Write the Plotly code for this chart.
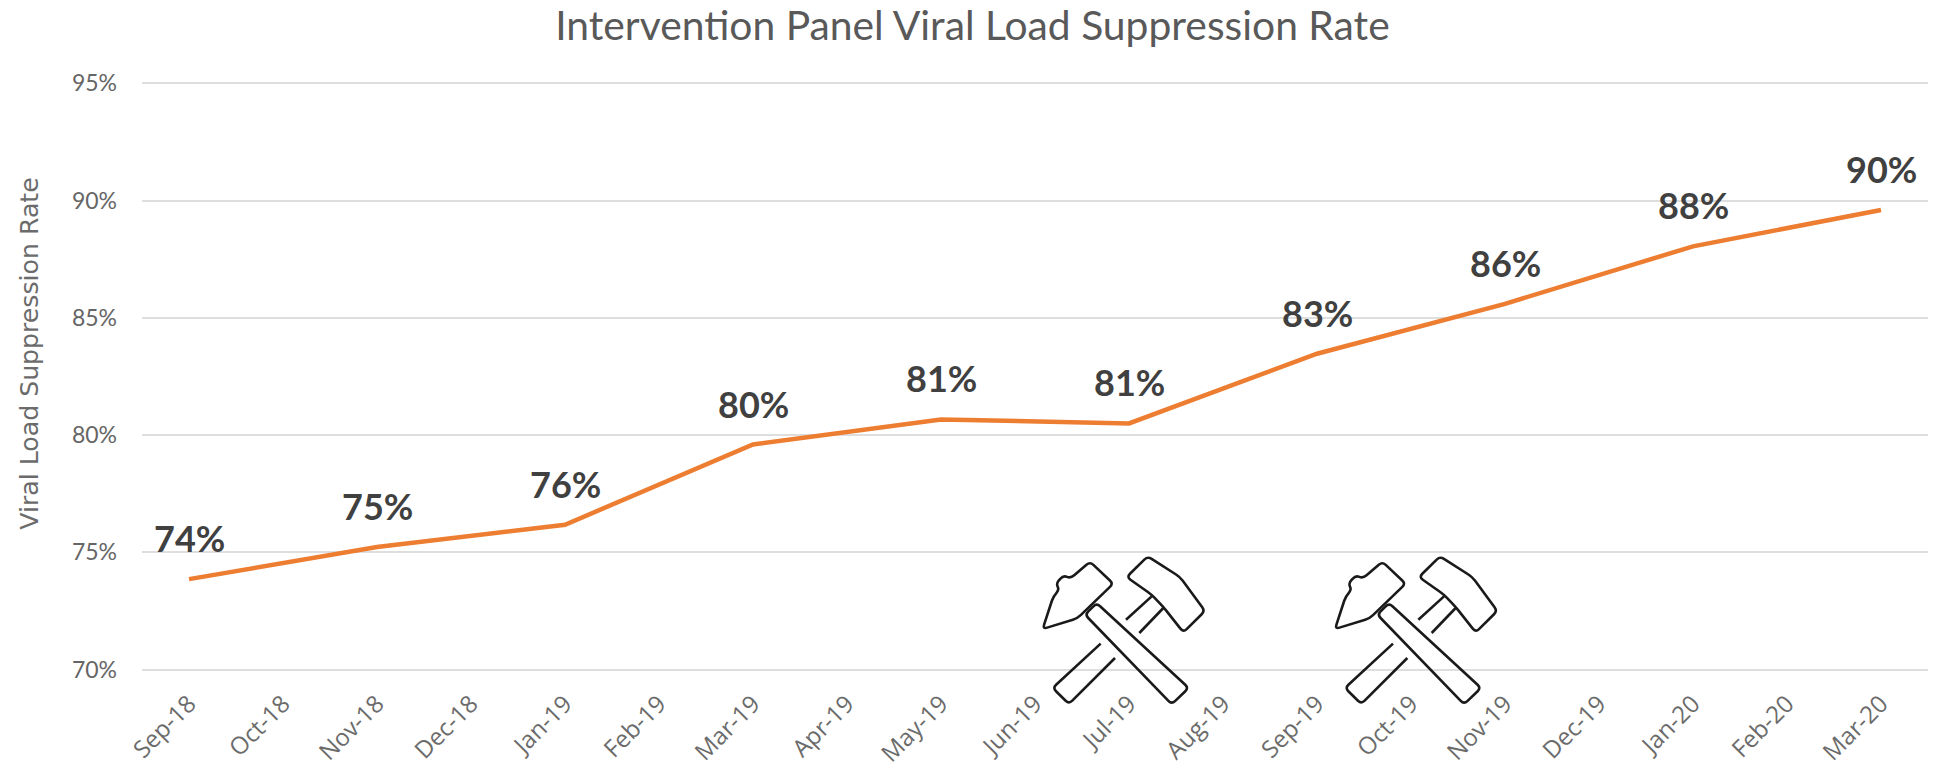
import math
import plotly.graph_objects as go

months = ["Sep-18","Oct-18","Nov-18","Dec-18","Jan-19","Feb-19","Mar-19","Apr-19","May-19","Jun-19",
          "Jul-19","Aug-19","Sep-19","Oct-19","Nov-19","Dec-19","Jan-20","Feb-20","Mar-20"]
rates = [73.86,None,75.23,None,76.18,None,79.6,None,80.67,None,80.5,None,83.47,None,85.6,None,88.05,None,89.6]
labels = ["74%",None,"75%",None,"76%",None,"80%",None,"81%",None,"81%",None,"83%",None,"86%",None,"88%",None,"90%"]
y_ticks = [70,75,80,85,90,95]
y_tick_text = ["70%","75%","80%","85%","90%","95%"]

W, H = 1941, 771
L, R, T, B = 142, 13, 81.15, 98.65

# Hammer icon outline, in reference zoom-crop units (3x), anchored at crop origin (1000, 520)
ICON_CLOSED = [
    [(270,126),(340,192),(232,296),(128,328),(160,230),(178,210),(168,192),(190,167),(212,176)],
    [(290,250),(566,505),(515,554),(255,285)],
    [(443,110),(540,172),(615,274),(550,338),(490,262),(455,225),(380,172)],
]
ICON_OPEN = [
    [(302,372),(158,505),(207,553),(345,415)],
    [(455,230),(378,300)],
    [(490,265),(418,340)],
]
ICON_OFFSETS = [0, 877]
CORNER = 14

def fx(px): return (px - L) / (W - L - R)
def fy(py): return 1 - (py - T) / (H - T - B)
def to_paper(p, dx):
    return fx(1000 + (p[0] + dx) / 3), fy(520 + p[1] / 3)

def toward(b, a):
    d = math.dist(a, b)
    t = min(CORNER, d / 2) / d
    return (b[0] + (a[0] - b[0]) * t, b[1] + (a[1] - b[1]) * t)

def rounded(points, dx, closed):
    n = len(points)
    if not closed:
        x, y = to_paper(points[0], dx)
        s = f"M{x},{y}"
        rng = range(1, n - 1)
    else:
        s = ""
        rng = range(n)
    for i in rng:
        a, b, c = points[i - 1], points[i], points[(i + 1) % n]
        p1, q, p2 = to_paper(toward(b, a), dx), to_paper(b, dx), to_paper(toward(b, c), dx)
        s += ("L" if s else "M") + f"{p1[0]},{p1[1]}Q{q[0]},{q[1]} {p2[0]},{p2[1]}"
    if closed:
        s += "Z"
    else:
        x, y = to_paper(points[-1], dx)
        s += f"L{x},{y}"
    return s

shapes = []
for dx in ICON_OFFSETS:
    for poly in ICON_CLOSED:
        shapes.append(dict(type="path", xref="paper", yref="paper", path=rounded(poly, dx, True),
                           line=dict(color="#1a1a1a", width=2.6), layer="above"))
    for poly in ICON_OPEN:
        shapes.append(dict(type="path", xref="paper", yref="paper", path=rounded(poly, dx, False),
                           line=dict(color="#1a1a1a", width=2.6), layer="above"))

fig = go.Figure(go.Scatter(
    x=months, y=rates, mode="lines", connectgaps=True,
    line=dict(color="#ed7d31", width=4.5), hoverinfo="skip",
))

annotations = [
    dict(x=m, y=v, xref="x", yref="y", text=t, showarrow=False, yshift=41, yanchor="middle",
         font=dict(family="Lato", size=36, color="#404040", weight="bold"))
    for m, v, t in zip(months, rates, labels) if t
]
annotations.append(dict(
    x=fx(30), y=fy(354), xref="paper", yref="paper", text="Viral Load Suppression Rate",
    textangle=-90, showarrow=False, xanchor="center", yanchor="middle",
    font=dict(family="DejaVu Sans", size=25.2, color="#6b6b6b")))

fig.update_layout(
    width=W, height=H, autosize=False,
    margin=dict(l=L, r=R, t=T, b=B, pad=0, autoexpand=False),
    paper_bgcolor="white", plot_bgcolor="white", showlegend=False,
    title=dict(text="Intervention Panel Viral Load Suppression Rate",
               font=dict(family="Lato", size=40.8, color="#595959"),
               x=0.501, xanchor="center", y=0.9663, yanchor="middle"),
    xaxis=dict(type="category", categoryorder="array", categoryarray=months, range=[-0.5, 18.5],
               showgrid=False, zeroline=False, showline=False, ticks="", tickangle=-45,
               ticklabelstandoff=12, automargin=False,
               tickfont=dict(family="Open Sans", size=24, color="#6b6b6b")),
    yaxis=dict(range=[69.9, 95.1], tickvals=y_ticks, ticktext=y_tick_text, showgrid=True,
               gridcolor="#dedede", gridwidth=1.5, zeroline=False, showline=False, ticks="",
               ticklabelstandoff=24,
               tickfont=dict(family="Lato", size=23, color="#666666"), automargin=False),
    shapes=shapes, annotations=annotations,
)
fig.write_html("out.html", config={"displayModeBar": False},
               post_script="document.body.style.margin='0';document.documentElement.style.overflow='hidden';")
